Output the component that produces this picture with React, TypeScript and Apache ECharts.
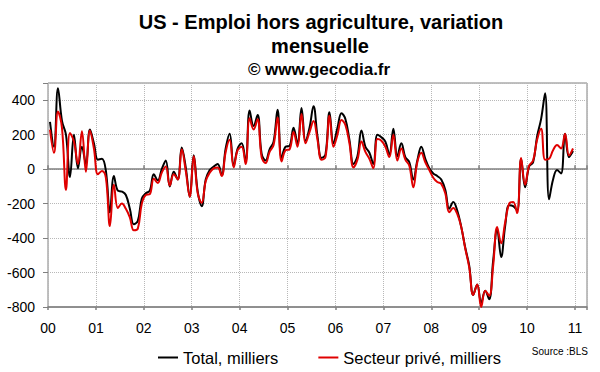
import React, { useEffect, useRef } from 'react';
import * as echarts from 'echarts';

const yearLabels = ['00', '01', '02', '03', '04', '05', '06', '07', '08', '09', '10', '11'];

// Monthly change, thousands, Jan 2000 .. Dec 2010
const total = [
  275, 130, 470, 280, 200, -45, 200, 5, 130, 30, 230, 150,
  55, 60, -10, -250, -40, -125, -130, -150, -230, -320, -300, -170,
  -140, -125, -30, -65, 0, 50, -100, -15, -60, 125, 10, -160,
  80, -130, -215, -60, -5, 15, 30, -35, 120, 205, 20, 120,
  150, 45, 340, 250, 315, 90, 50, 115, 160, 345, 65, 130,
  135, 240, 150, 355, 165, 240, 365, 190, 65, 85, 330, 150,
  240, 325, 290, 170, 30, 75, 225, 130, 95, 30, 200, 185,
  160, 85, 235, 75, 150, 70, 40, -60, 50, 130, 60, 5,
  -25, -40, -60, -120, -230, -190, -240, -335, -455, -560, -730, -670,
  -775, -705, -755, -530, -350, -510, -330, -210, -215, -240, 60, -105,
  15, 40, 190, 290, 440, -175, -60, -5, -25, 205, 70, 105,
];

const prive = [
  230, 95, 335, 240, -120, 210, 160, 30, 220, -15, 225, 120,
  -30, -10, -50, -330, -90, -225, -200, -230, -280, -355, -345, -200,
  -150, -145, -55, -80, -20, 15, -95, -30, -60, 115, -10, -160,
  75, -140, -195, -70, -20, 5, 10, -40, 100, 170, 10, 110,
  130, 30, 295, 230, 290, 70, 35, 100, 140, 300, 45, 110,
  115, 215, 130, 320, 150, 215, 280, 170, 55, 70, 310, 130,
  200, 285, 255, 150, 10, 55, 160, 100, 60, 5, 175, 165,
  130, 70, 200, 50, 120, 55, 20, -105, 40, 95, 40, -5,
  -50, -75, -85, -140, -250, -225, -260, -335, -460, -570, -730, -670,
  -800, -705, -735, -560, -335, -430, -310, -200, -190, -255, 65, -90,
  20, 50, 170, 235, 55, 60, 110, 140, 120, 205, 80, 120,
];

const seriesNames = ['Total, milliers', 'Secteur privé, milliers'];
const titleLines = ['US - Emploi hors agriculture, variation', 'mensuelle'];
const subtitle = '© www.gecodia.fr';
const sourceText = 'Source :BLS';

const FONT = '"Liberation Sans", Arial, sans-serif';

export default function App() {
  const ref = useRef<HTMLDivElement>(null);
  useEffect(() => {
    if (!ref.current) return;
    const chart = echarts.init(ref.current, undefined, { renderer: 'svg' });
    const xBase = {
      type: 'value',
      min: 0,
      max: 135,
      interval: 12,
      position: 'bottom',
    };
    const txt = (text: string, x: number, y: number, font: string, align = 'center') => ({
      type: 'text',
      x,
      y,
      style: {
        text,
        font,
        fill: '#000',
        align,
        verticalAlign: 'middle',
        textAlign: align,
        textVerticalAlign: 'middle',
      },
    });
    const option: any = {
      animation: false,
      backgroundColor: '#ffffff',
      textStyle: { fontFamily: FONT },
      graphic: [
        txt(titleLines[0], 321, 22, 'bold 20px ' + FONT),
        txt(titleLines[1], 320, 46, 'bold 20px ' + FONT),
        txt(subtitle, 319, 69, 'bold 17px ' + FONT),
        txt(sourceText, 588, 351, '10px ' + FONT, 'right'),
      ],
      grid: {
        left: 48,
        right: 13,
        top: 83,
        bottom: 65,
        show: true,
        borderColor: '#808080',
        borderWidth: 1,
        backgroundColor: '#ffffff',
      },
      legend: {
        data: seriesNames,
        left: 153,
        top: 344,
        icon: 'rect',
        itemWidth: 20,
        itemHeight: 2,
        itemGap: 40,
        textStyle: { fontSize: 16.5, color: '#000', fontFamily: FONT },
      },
      xAxis: [
        {
          ...xBase,
          axisLine: { show: false, onZero: false },
          axisTick: { show: false },
          axisLabel: {
            fontSize: 14,
            color: '#000',
            margin: 14,
            fontFamily: FONT,
            formatter: (v: number) => (v % 12 === 0 ? yearLabels[v / 12] : ''),
          },
          splitLine: { show: true, lineStyle: { type: 'dotted', color: '#b8b8b8', width: 1 } },
        },
        {
          ...xBase,
          axisLine: { show: true, onZero: true, lineStyle: { color: '#808080', width: 1.5 } },
          axisTick: { show: true, inside: true, length: 4, lineStyle: { color: '#808080', width: 1.5 } },
          axisLabel: { show: false },
          splitLine: { show: false },
        },
        {
          ...xBase,
          axisLine: { show: true, onZero: true, lineStyle: { color: '#808080', width: 1.5 } },
          axisTick: { show: true, inside: false, length: 3, lineStyle: { color: '#808080', width: 1.5 } },
          axisLabel: { show: false },
          splitLine: { show: false },
        },
      ],
      yAxis: {
        type: 'value',
        min: -800,
        max: 500,
        interval: 200,
        axisLine: { show: false },
        axisTick: { show: true, length: 5, lineStyle: { color: '#808080' } },
        axisLabel: {
          fontSize: 14,
          color: '#000',
          margin: 13,
          fontFamily: FONT,
          formatter: (v: number) => (v % 200 === 0 ? String(v) : ''),
        },
        splitLine: { show: true, lineStyle: { type: 'dotted', color: '#b8b8b8', width: 1 } },
      },
      series: [
        {
          name: seriesNames[0],
          type: 'line',
          xAxisIndex: 0,
          data: total.map((v, i) => [i + 0.5, v]),
          smooth: 0.4,
          symbol: 'none',
          showSymbol: false,
          lineStyle: { color: '#000000', width: 2 },
          itemStyle: { color: '#000000' },
        },
        {
          name: seriesNames[1],
          type: 'line',
          xAxisIndex: 0,
          data: prive.map((v, i) => [i + 0.5, v]),
          smooth: 0.4,
          symbol: 'none',
          showSymbol: false,
          lineStyle: { color: '#e00000', width: 2 },
          itemStyle: { color: '#e00000' },
        },
      ],
    };
    chart.setOption(option);
    return () => chart.dispose();
  }, []);
  return (
    <div
      ref={ref}
      style={{ position: 'absolute', left: 0, top: 0, width: 600, height: 372, background: '#fff' }}
    />
  );
}
